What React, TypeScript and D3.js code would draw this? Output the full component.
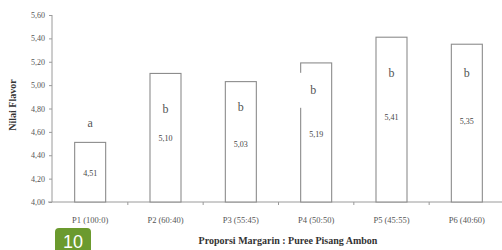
import React, { useEffect, useRef } from "react";
import * as d3 from "d3";

const categories = ["P1 (100:0)", "P2 (60:40)", "P3 (55:45)", "P4 (50:50)", "P5 (45:55)", "P6 (40:60)"];
const values = [4.51, 5.1, 5.03, 5.19, 5.41, 5.35];
const valueLabels = ["4,51", "5,10", "5,03", "5,19", "5,41", "5,35"];
const letters = ["a", "b", "b", "b", "b", "b"];
// where the annotations sit, in axis units
const letterAt = [4.68, 4.8, 4.81, 4.96, 5.1, 5.1];
const valueAt = [4.25, 4.55, 4.5, 4.58, 4.73, 4.69];
const yTicks = [4.0, 4.2, 4.4, 4.6, 4.8, 5.0, 5.2, 5.4, 5.6];

const W = 502;
const H = 250;

const App = () => {
  const ref = useRef(null);

  useEffect(() => {
    const svg = d3.select(ref.current);
    svg.selectAll("*").remove();

    const font = "'Liberation Serif', 'Times New Roman', serif";
    const x = d3.scaleBand().domain(categories).range([52.5, 504.5]);
    const y = d3.scaleLinear().domain([4, 5.6]).range([202, 15]);
    const barW = 31;
    const axisColor = "#9a9a9a";

    // y axis
    const yAxis = svg
      .append("g")
      .attr("transform", "translate(52,0)")
      .call(
        d3
          .axisLeft(y)
          .tickValues(yTicks)
          .tickSize(3)
          .tickFormat((d) => d3.format(".2f")(d).replace(".", ","))
      );
    yAxis.select(".domain").attr("stroke", axisColor).attr("d", `M0,${y(5.6)}V${y(4)}`);
    yAxis.selectAll(".tick line").attr("stroke", axisColor);
    yAxis
      .selectAll(".tick text")
      .attr("fill", "#555")
      .attr("font-family", font)
      .attr("font-size", 8)
      .attr("x", -7);

    // x axis
    const xAxis = svg
      .append("g")
      .attr("transform", `translate(0,${y(4)})`)
      .call(d3.axisBottom(x).tickSize(0).tickFormat(() => ""));
    xAxis.select(".domain").attr("stroke", axisColor).attr("d", `M48,0H502`);
    xAxis.selectAll(".tick").remove();
    xAxis
      .selectAll(".boundary")
      .data(categories.slice(1))
      .enter()
      .append("line")
      .attr("x1", (d) => x(d))
      .attr("x2", (d) => x(d))
      .attr("y1", 0)
      .attr("y2", 3)
      .attr("stroke", axisColor);

    svg
      .selectAll(".cat")
      .data(categories)
      .enter()
      .append("text")
      .attr("x", (d) => x(d) + x.bandwidth() / 2)
      .attr("y", 223)
      .attr("text-anchor", "middle")
      .attr("font-family", font)
      .attr("font-size", 8.5)
      .attr("fill", "#555")
      .text((d) => d);

    // bars
    svg
      .selectAll(".bar")
      .data(values)
      .enter()
      .append("rect")
      .attr("x", (d, i) => x(categories[i]) + x.bandwidth() / 2 - barW / 2)
      .attr("y", (d) => y(d))
      .attr("width", barW)
      .attr("height", (d) => y(4) - y(d))
      .attr("fill", "white")
      .attr("stroke", "#8c8c8c")
      .attr("stroke-width", 1.1);

    // P4 letter sits on a white box that cuts the bar outline
    const c4 = x(categories[3]) + x.bandwidth() / 2;
    svg
      .append("rect")
      .attr("x", c4 - barW / 2 - 3)
      .attr("y", y(letterAt[3]) - 17)
      .attr("width", 22)
      .attr("height", 35)
      .attr("fill", "white");

    svg
      .selectAll(".letter")
      .data(letters)
      .enter()
      .append("text")
      .attr("x", (d, i) => x(categories[i]) + x.bandwidth() / 2 - (i === 3 ? 3 : 0))
      .attr("y", (d, i) => y(letterAt[i]) + 4)
      .attr("text-anchor", "middle")
      .attr("font-family", font)
      .attr("font-size", 12)
      .attr("fill", "#555")
      .text((d) => d);

    svg
      .selectAll(".val")
      .data(valueLabels)
      .enter()
      .append("text")
      .attr("x", (d, i) => x(categories[i]) + x.bandwidth() / 2)
      .attr("y", (d, i) => y(valueAt[i]) + 3)
      .attr("text-anchor", "middle")
      .attr("font-family", font)
      .attr("font-size", 8)
      .attr("fill", "#444")
      .text((d) => d);

    // axis titles
    svg
      .append("text")
      .attr("transform", `translate(16,105) rotate(-90)`)
      .attr("text-anchor", "middle")
      .attr("font-family", font)
      .attr("font-weight", "bold")
      .attr("font-size", 10)
      .attr("fill", "#333")
      .text("Nilai Flavor");

    svg
      .append("text")
      .attr("x", 288)
      .attr("y", 244)
      .attr("text-anchor", "middle")
      .attr("font-family", font)
      .attr("font-weight", "bold")
      .attr("font-size", 10)
      .attr("fill", "#333")
      .text("Proporsi Margarin : Puree Pisang Ambon");

    // page number badge
    svg
      .append("rect")
      .attr("x", 55)
      .attr("y", 228)
      .attr("width", 36)
      .attr("height", 28)
      .attr("rx", 4)
      .attr("fill", "#6b9a2e");
    svg
      .append("text")
      .attr("x", 73)
      .attr("y", 248)
      .attr("text-anchor", "middle")
      .attr("font-family", "'Liberation Sans', Arial, sans-serif")
      .attr("font-size", 18)
      .attr("fill", "white")
      .text("10");
  }, []);

  return (
    <svg
      ref={ref}
      width={W}
      height={H}
      style={{ position: "absolute", left: 0, top: 0, background: "white" }}
    ></svg>
  );
};

export default App;
